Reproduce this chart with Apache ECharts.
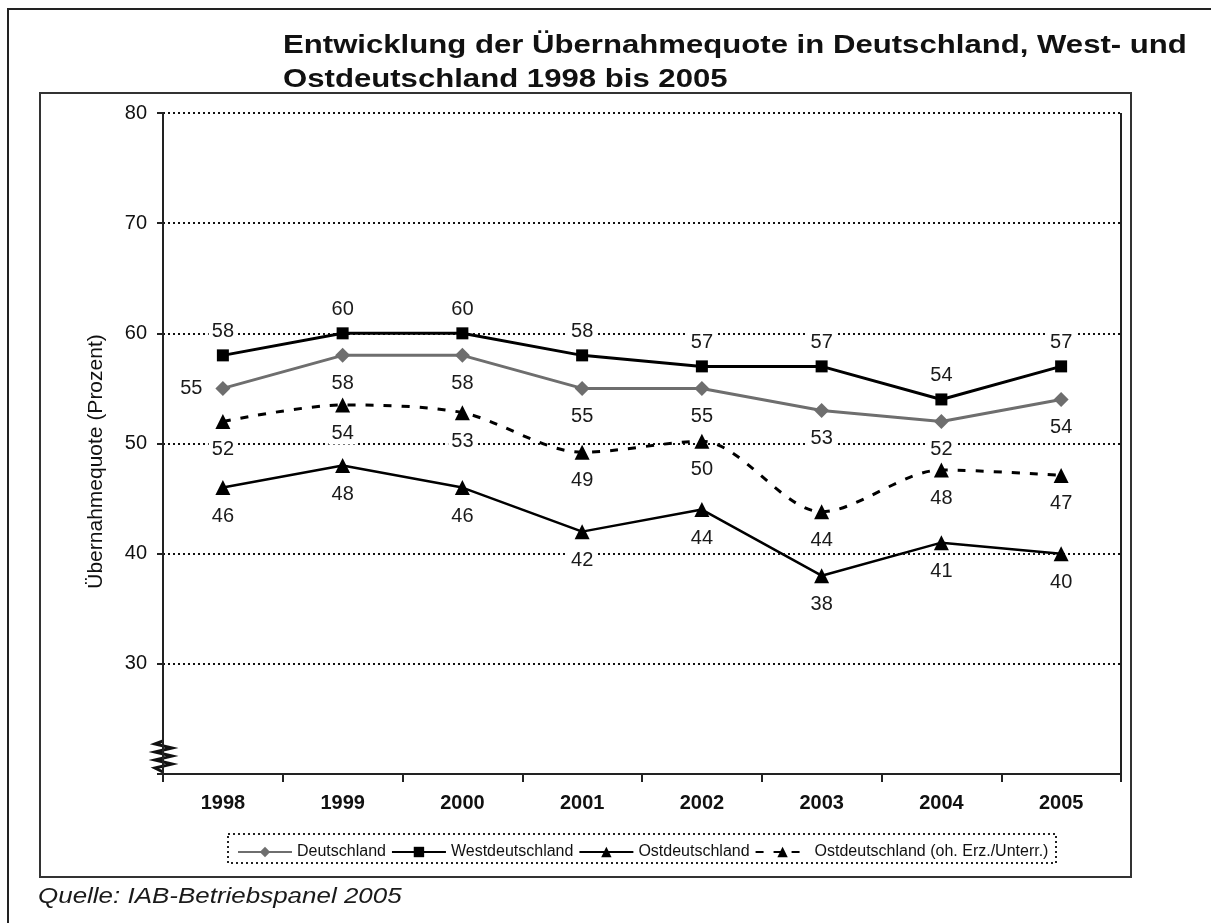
<!DOCTYPE html>
<html>
<head>
<meta charset="utf-8">
<script src="https://cdn.jsdelivr.net/npm/echarts@6/dist/echarts.min.js"></script>
<style>
  html, body { margin: 0; padding: 0; background: #fff; }
</style>
</head>
<body>
<div id="myChart" style="width:1211px;height:923px"></div>
<script>
var years = ['1998', '1999', '2000', '2001', '2002', '2003', '2004', '2005']
var deutschland = [55, 58, 58, 55, 55, 53, 52, 54]
var west = [58, 60, 60, 58, 57, 57, 54, 57]
var ost = [46, 48, 46, 42, 44, 38, 41, 40]
var ostOhne = [52.0, 53.5, 52.8, 49.2, 50.2, 43.8, 47.6, 47.1]
var yTicks = [30, 40, 50, 60, 70, 80]

var font = '"Liberation Sans", Arial, sans-serif'

function dataLabel (pos, dist) {
  return {
    show: true,
    position: pos,
    distance: dist,
    fontFamily: font,
    fontSize: 20,
    color: '#1a1a1a',
    backgroundColor: '#fff',
    padding: [1, 3],
    formatter: function (p) { return Math.round(p.value) }
  }
}

// erster Wert von Deutschland steht links vom Punkt
var deData = deutschland.map(function (v, i) {
  return i === 0 ? { value: v, label: { position: 'left', distance: 10 } } : v
})

var option = {
  animation: false,
  grid: { left: 163, right: 90, top: 113, bottom: 149 },
  legend: {
    bottom: 58,
    left: 232,
    itemGap: 5,
    itemWidth: 54,
    itemHeight: 13,
    textStyle: { fontFamily: font, fontSize: 16, color: '#111' },
    data: ['Deutschland', 'Westdeutschland', 'Ostdeutschland', 'Ostdeutschland (oh. Erz./Unterr.)']
  },
  xAxis: {
    type: 'category',
    data: years,
    boundaryGap: true,
    axisLine: { lineStyle: { color: '#222', width: 2 } },
    axisTick: { show: true, length: 8, lineStyle: { color: '#222', width: 2 } },
    axisLabel: { fontFamily: font, fontSize: 20, fontWeight: 'bold', color: '#111', margin: 19 }
  },
  yAxis: {
    type: 'value',
    min: 20,
    max: 80,
    interval: 10,
    name: 'Übernahmequote (Prozent)',
    nameLocation: 'middle',
    nameGap: 56,
    nameTextStyle: { fontFamily: font, fontSize: 21, color: '#111', padding: [0, 36, 0, 0] },
    axisLine: { show: true, lineStyle: { color: '#222', width: 2 } },
    axisTick: { show: true, length: 6, lineStyle: { color: '#222', width: 2 } },
    axisLabel: {
      fontFamily: font, fontSize: 20, color: '#111', margin: 16,
      formatter: function (v) { return yTicks.indexOf(v) >= 0 ? v : '' }
    },
    splitLine: { show: true, lineStyle: { color: '#111', width: 2, type: [2, 3] } }
  },
  graphic: [
    // Rahmen außen
    { type: 'polyline', shape: { points: [[8, 930], [8, 9], [1215, 9]] }, style: { stroke: '#222', lineWidth: 2, fill: null } },
    // Diagrammrahmen
    { type: 'rect', shape: { x: 40, y: 93, width: 1091, height: 784 }, style: { stroke: '#333', lineWidth: 2, fill: null } },
    // rechte Begrenzung der Zeichenfläche
    { type: 'line', shape: { x1: 1121, y1: 113, x2: 1121, y2: 782 }, style: { stroke: '#222', lineWidth: 2 } },
    // Achsenbruch
    { type: 'polyline', shape: { points: [[163, 741], [155, 744], [172, 748], [155, 752], [172, 756], [155, 760], [172, 764], [155, 768], [163, 772]] }, style: { stroke: '#111', lineWidth: 3, fill: null } },
    // Legendenrahmen
    { type: 'rect', shape: { x: 228, y: 834, width: 828, height: 29 }, style: { stroke: '#222', lineWidth: 2, lineDash: [2, 3], fill: null } },
    {
      type: 'text', x: 283, y: 29, scaleX: 1.245,
      style: {
        text: 'Entwicklung der Übernahmequote in Deutschland, West- und\nOstdeutschland 1998 bis 2005',
        font: 'bold 25px "Liberation Sans", Arial, sans-serif', lineHeight: 34, fill: '#111'
      }
    },
    {
      type: 'text', x: 38, y: 886, scaleX: 1.18,
      style: { text: 'Quelle: IAB-Betriebspanel 2005', font: 'italic 22px "Liberation Sans", Arial, sans-serif', fill: '#1a1a1a' }
    }
  ],
  series: [
    {
      name: 'Deutschland', type: 'line', data: deData,
      symbol: 'diamond', symbolSize: 15,
      itemStyle: { color: '#6e6e6e' },
      lineStyle: { color: '#6e6e6e', width: 3 },
      label: dataLabel('bottom', 10), z: 3
    },
    {
      name: 'Westdeutschland', type: 'line', data: west,
      symbol: 'rect', symbolSize: 12,
      itemStyle: { color: '#000' },
      lineStyle: { color: '#000', width: 3 },
      label: dataLabel('top', 7), z: 4
    },
    {
      name: 'Ostdeutschland', type: 'line', data: ost,
      symbol: 'triangle', symbolSize: 15,
      itemStyle: { color: '#000' },
      lineStyle: { color: '#000', width: 2.5 },
      label: dataLabel('bottom', 10), z: 3
    },
    {
      name: 'Ostdeutschland (oh. Erz./Unterr.)', type: 'line', data: ostOhne,
      symbol: 'triangle', symbolSize: 15, smooth: 0.3,
      itemStyle: { color: '#000' },
      lineStyle: { color: '#000', width: 3, type: [8, 10] },
      label: dataLabel('bottom', 10), z: 2
    }
  ]
}

var myChart = echarts.init(document.getElementById('myChart'))
myChart.setOption(option)
</script>
</body>
</html>
